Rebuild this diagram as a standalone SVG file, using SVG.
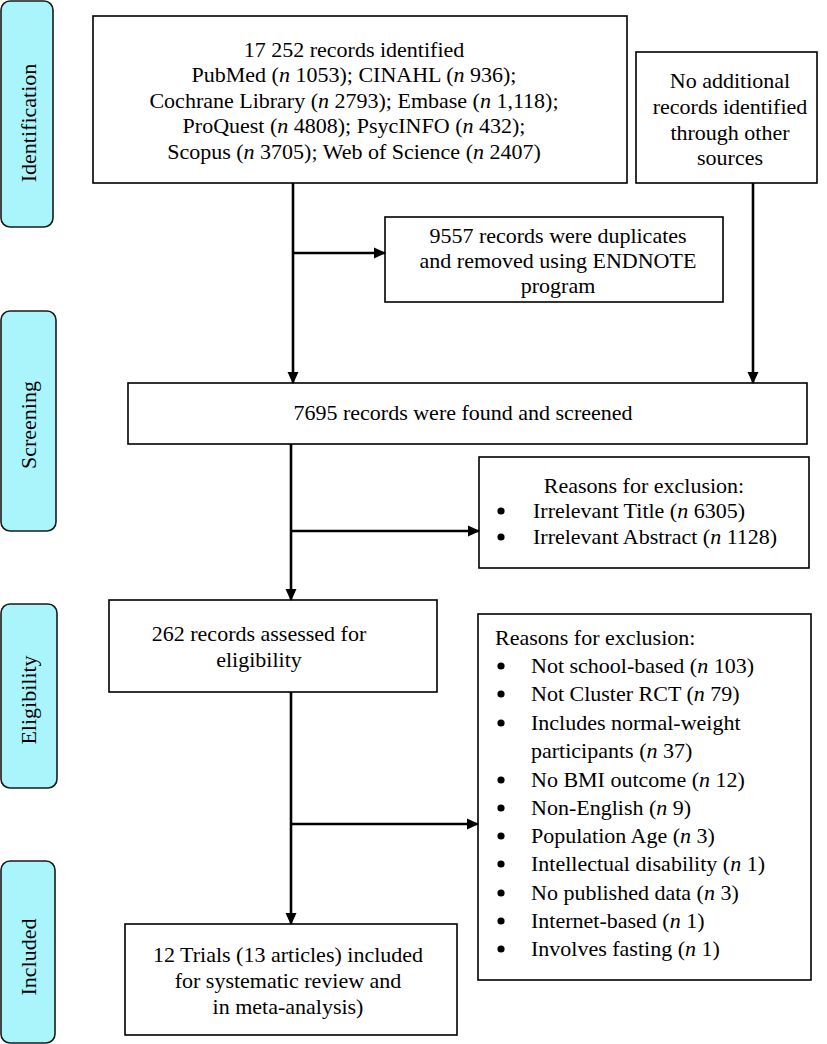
<svg xmlns="http://www.w3.org/2000/svg" width="827" height="1044" viewBox="0 0 827 1044" font-family="Liberation Serif, Tinos, Times New Roman, DejaVu Serif, serif">
<style>
.box{fill:#fff;stroke:#000;stroke-width:1.6}
.side{fill:#aaf5fc;stroke:#1a1a1a;stroke-width:1.6}
text{font-family:'Liberation Serif',Tinos,'Times New Roman','DejaVu Serif',serif;font-size:22px;fill:#000}
.c{text-anchor:middle}
.i{font-style:italic}
.conn{stroke:#000;stroke-width:2.6;fill:none}
</style>
<defs>
<marker id="ah" markerWidth="12" markerHeight="12" refX="11" refY="6" orient="auto" markerUnits="userSpaceOnUse">
<path d="M0,0.5 L12,6 L0,11.5 Z" fill="#000"/>
</marker>
</defs>

<g id="stage-identification">
<rect class="side" x="1" y="1" width="52" height="226" rx="9"/>
<text class="c" transform="translate(36,123) rotate(-90)">Identification</text>
</g>
<g id="stage-screening">
<rect class="side" x="1" y="311" width="55" height="220" rx="9"/>
<text class="c" transform="translate(36,425) rotate(-90)">Screening</text>
</g>
<g id="stage-eligibility">
<rect class="side" x="1" y="604" width="56" height="184" rx="9"/>
<text class="c" transform="translate(36,700) rotate(-90)">Eligibility</text>
</g>
<g id="stage-included">
<rect class="side" x="1" y="861" width="54" height="182" rx="9"/>
<text class="c" transform="translate(36,957) rotate(-90)">Included</text>
</g>

<g id="node-identified">
<rect class="box" x="93" y="16" width="534" height="167"/>
<text class="c" x="354" y="57">17 252 records identified</text>
<text class="c" x="354" y="82">PubMed (<tspan class="i">n</tspan> 1053); CINAHL (<tspan class="i">n</tspan> 936);</text>
<text class="c" x="354" y="108">Cochrane Library (<tspan class="i">n</tspan> 2793); Embase (<tspan class="i">n</tspan> 1,118);</text>
<text class="c" x="354" y="133">ProQuest (<tspan class="i">n</tspan> 4808); PsycINFO (<tspan class="i">n</tspan> 432);</text>
<text class="c" x="354" y="159">Scopus (<tspan class="i">n</tspan> 3705); Web of Science (<tspan class="i">n</tspan> 2407)</text>
</g>

<g id="node-additional">
<rect class="box" x="636" y="52" width="181" height="131"/>
<text class="c" x="730" y="88">No additional</text>
<text class="c" x="730" y="114">records identified</text>
<text class="c" x="730" y="140">through other</text>
<text class="c" x="730" y="165">sources</text>
</g>

<g id="node-duplicates">
<rect class="box" x="385" y="217" width="338" height="85"/>
<text class="c" x="558" y="243">9557 records were duplicates</text>
<text class="c" x="558" y="268">and removed using ENDNOTE</text>
<text class="c" x="558" y="293">program</text>
</g>

<g id="node-screened">
<rect class="box" x="128" y="383" width="679" height="61"/>
<text class="c" x="463" y="420">7695 records were found and screened</text>
</g>

<g id="node-excl-screening">
<rect class="box" x="479" y="457" width="330" height="111"/>
<text class="c" x="644" y="493">Reasons for exclusion:</text>
<circle cx="501" cy="511" r="3.6"/>
<text x="533" y="518">Irrelevant Title (<tspan class="i">n</tspan> 6305)</text>
<circle cx="501" cy="537" r="3.6"/>
<text x="533" y="544">Irrelevant Abstract (<tspan class="i">n</tspan> 1128)</text>
</g>

<g id="node-eligibility">
<rect class="box" x="109" y="600" width="328" height="92"/>
<text class="c" x="259" y="641">262 records assessed for</text>
<text class="c" x="259" y="667">eligibility</text>
</g>

<g id="node-excl-eligibility">
<rect class="box" x="478" y="614" width="333" height="366"/>
<text x="495" y="645">Reasons for exclusion:</text>
<g>
<circle cx="501" cy="666" r="3.6"/><text x="531" y="673">Not school-based (<tspan class="i">n</tspan> 103)</text>
<circle cx="501" cy="694" r="3.6"/><text x="531" y="701">Not Cluster RCT (<tspan class="i">n</tspan> 79)</text>
<circle cx="501" cy="723" r="3.6"/><text x="531" y="730">Includes normal-weight</text>
<text x="531" y="758">participants (<tspan class="i">n</tspan> 37)</text>
<circle cx="501" cy="780" r="3.6"/><text x="531" y="787">No BMI outcome (<tspan class="i">n</tspan> 12)</text>
<circle cx="501" cy="808" r="3.6"/><text x="531" y="815">Non-English (<tspan class="i">n</tspan> 9)</text>
<circle cx="501" cy="836" r="3.6"/><text x="531" y="843">Population Age (<tspan class="i">n</tspan> 3)</text>
<circle cx="501" cy="864" r="3.6"/><text x="531" y="871">Intellectual disability (<tspan class="i">n</tspan> 1)</text>
<circle cx="501" cy="893" r="3.6"/><text x="531" y="900">No published data (<tspan class="i">n</tspan> 3)</text>
<circle cx="501" cy="921" r="3.6"/><text x="531" y="928">Internet-based (<tspan class="i">n</tspan> 1)</text>
<circle cx="501" cy="949" r="3.6"/><text x="531" y="956">Involves fasting (<tspan class="i">n</tspan> 1)</text>
</g>
</g>

<g id="node-included">
<rect class="box" x="125" y="924" width="332" height="111"/>
<text class="c" x="288" y="962">12 Trials (13 articles) included</text>
<text class="c" x="288" y="988">for systematic review and</text>
<text class="c" x="288" y="1014">in meta-analysis)</text>
</g>

<g id="connectors">
<path class="conn" d="M293,183 V383" marker-end="url(#ah)"/>
<path class="conn" d="M293,253 H385" marker-end="url(#ah)"/>
<path class="conn" d="M753,183 V383" marker-end="url(#ah)"/>
<path class="conn" d="M291,444 V600" marker-end="url(#ah)"/>
<path class="conn" d="M291,531 H479" marker-end="url(#ah)"/>
<path class="conn" d="M291,692 V924" marker-end="url(#ah)"/>
<path class="conn" d="M291,824 H478" marker-end="url(#ah)"/>
</g>
</svg>
